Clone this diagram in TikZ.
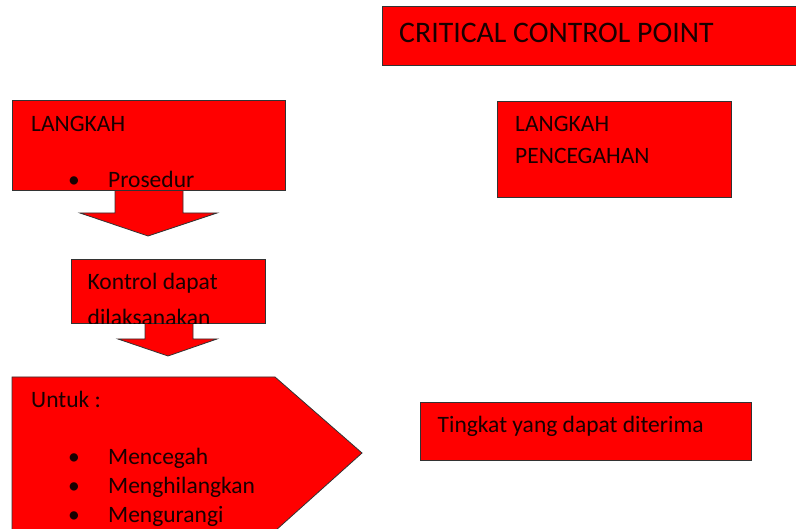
\documentclass[tikz,border=0pt]{standalone}
\usepackage{fontspec}
\setmainfont{Carlito}
\begin{document}
\begin{tikzpicture}[x=1pt,y=-1pt,
  shp/.style={fill=red, draw=black!80, line width=0.8pt},
  txt/.style={anchor=base west, inner sep=0pt, font=\fontsize{23.5}{28}\selectfont, text=black!90!red}]
\useasboundingbox (0,0) rectangle (796,529);
\clip (0,0) rectangle (796,529);
% title
\path[shp] (382,6) rectangle (797,65);
\node[txt, font=\fontsize{29.8}{34}\selectfont] (title) at (399,43) {CRITICAL CONTROL POINT};
% step box with arrow
\path[shp] (115,190) -- (115,213) -- (80,213) -- (148,236) -- (217,213) -- (183,213) -- (183,190) -- cycle;
\path[shp] (12,100) rectangle (285,190);
\begin{scope}
\clip (12,100) rectangle (285,190);
\node[txt] (langkah) at (31,131.5) {LANGKAH};
\node[txt] (b1) at (68,187.5) {•};
\node[txt] (prosedur) at (108,187.5) {Prosedur};
\end{scope}
% control box with arrow
\path[shp] (145,323) -- (145,339) -- (118,339) -- (168,356) -- (217,339) -- (193,339) -- (193,323) -- cycle;
\path[shp] (71,259) rectangle (265,323.5);
\begin{scope}
\clip (71,259) rectangle (265,323.5);
\node[txt] (kontrol) at (87.5,289.5) {Kontrol dapat};
\node[txt] (dilak) at (87.5,325.5) {dilaksanakan};
\end{scope}
% pentagon
\path[shp] (12,377) -- (275,377) -- (362,453) -- (275,531) -- (12,531) -- cycle;
\node[txt] (untuk) at (31,407.5) {Untuk :};
\node[txt] (b2) at (68,464.5) {•};
\node[txt] (mencegah) at (108,464.5) {Mencegah};
\node[txt] (b3) at (68,493.5) {•};
\node[txt] (menghil) at (108,493.5) {Menghilangkan};
\node[txt] (b4) at (68,522) {•};
\node[txt] (mengur) at (108,522) {Mengurangi};
% preventive step
\path[shp] (497,101) rectangle (731,197);
\node[txt] (langkah2) at (515,131.5) {LANGKAH};
\node[txt] (pencegahan) at (515,164) {PENCEGAHAN};
% acceptable level
\path[shp] (420,402) rectangle (751,460);
\node[txt] (tingkat) at (437.5,432.5) {Tingkat yang dapat diterima};
\end{tikzpicture}
\end{document}
